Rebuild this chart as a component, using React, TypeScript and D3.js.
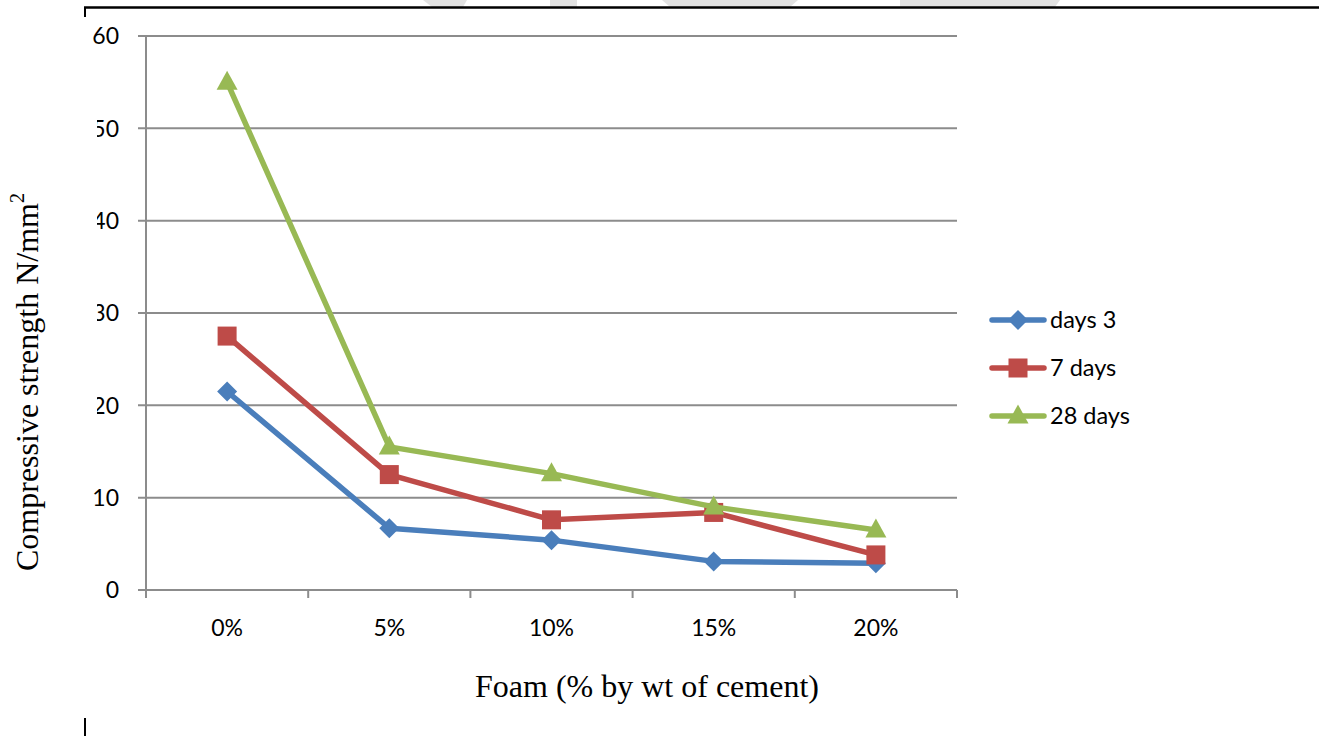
import React from "react";
import * as d3 from "d3";

// Foam content categories and compressive strength per curing age (N/mm²)
const categories = ["0%", "5%", "10%", "15%", "20%"];
const days3 = [21.5, 6.7, 5.4, 3.1, 2.9];
const days7 = [27.5, 12.5, 7.6, 8.4, 3.8];
const days28 = [55, 15.5, 12.6, 9.0, 6.5];
const yTicks = [0, 10, 20, 30, 40, 50, 60];

const seriesNames = ["days 3", "7 days", "28 days"];
const seriesColors = ["#4A7EBB", "#BE4B48", "#98B954"];
const seriesShapes = ["diamond", "square", "triangle"];

const W = 1319;
const H = 736;
const plot = { left: 146, right: 957, top: 36, bottom: 590 };

const tickFont = "Lato, 'Open Sans', sans-serif";
const titleFont = "'Liberation Serif', 'Times New Roman', serif";

function Marker({ shape, x, y, color }: { shape: string; x: number; y: number; color: string }) {
  if (shape === "diamond") {
    const r = 10;
    return <path d={`M${x},${y - r}L${x + r},${y}L${x},${y + r}L${x - r},${y}Z`} fill={color} />;
  }
  if (shape === "square") {
    const s = 19;
    return <rect x={x - s / 2} y={y - s / 2} width={s} height={s} fill={color} />;
  }
  const h = 19;
  const w = 21;
  return (
    <path d={`M${x},${y - h * 0.6}L${x + w / 2},${y + h * 0.4}L${x - w / 2},${y + h * 0.4}Z`} fill={color} />
  );
}

export default function App() {
  const x = d3.scaleBand<string>().domain(categories).range([plot.left, plot.right]);
  const y = d3.scaleLinear().domain([0, 60]).range([plot.bottom, plot.top]);
  const cx = (c: string) => (x(c) as number) + x.bandwidth() / 2;
  const allSeries = [days3, days7, days28];
  const line = d3
    .line<number>()
    .x((_, i) => cx(categories[i]))
    .y((v) => y(v));

  const bandEdges = categories.map((c) => x(c) as number).concat([plot.right]);
  const legendY = [320, 368, 416];

  return (
    <svg width={W} height={H} style={{ position: "absolute", left: 0, top: 0, background: "#fff" }}>
      <rect x={0} y={0} width={W} height={H} fill="#fff" />

      {/* faint page shapes above the frame line */}
      <g fill="#e2e2e2">
        <path d="M423,0L467,0L463,7L432,7Z" />
        <path d="M550,0L577,0L577,7L550,7Z" />
        <path d="M662,0L798,0L790,7L670,7Z" />
        <path d="M900,0L1060,0L1055,7L900,7Z" />
      </g>

      {/* page frame marks */}
      <line x1={84} x2={W} y1={7.5} y2={7.5} stroke="#000" strokeWidth={2.5} />
      <line x1={85} x2={85} y1={7} y2={17} stroke="#000" strokeWidth={2} />
      <line x1={85} x2={85} y1={718} y2={736} stroke="#000" strokeWidth={2} />

      {/* gridlines */}
      {yTicks.map((t) => (
        <line key={t} x1={plot.left - 8} x2={plot.right} y1={y(t)} y2={y(t)} stroke="#8c8c8c" strokeWidth={2} />
      ))}
      {/* axes */}
      <line x1={plot.left} x2={plot.left} y1={plot.top} y2={plot.bottom + 1} stroke="#8c8c8c" strokeWidth={2} />
      {bandEdges.map((e, i) => (
        <line key={i} x1={e} x2={e} y1={plot.bottom} y2={plot.bottom + 8} stroke="#8c8c8c" strokeWidth={2} />
      ))}

      {/* y tick labels */}
      {yTicks.map((t) => (
        <text
          key={t}
          x={119}
          y={y(t)}
          dy="0.36em"
          textAnchor="end"
          fontFamily={tickFont}
          fontSize={23}
          fill="#000"
        >
          {t}
        </text>
      ))}
      {/* title box overlapping the middle tick labels */}
      <rect x={30} y={110} width={67} height={320} fill="#fff" />

      {/* x tick labels */}
      {categories.map((c) => (
        <text key={c} x={cx(c)} y={628} dy="0.36em" textAnchor="middle" fontFamily={tickFont} fontSize={23} fill="#000">
          {c}
        </text>
      ))}

      {/* axis titles */}
      <text
        transform={`translate(38,382) rotate(-90)`}
        textAnchor="middle"
        fontFamily={titleFont}
        fontSize={32}
        fill="#000"
      >
        Compressive strength N/mm
        <tspan dy={-14} fontSize={20}>
          2
        </tspan>
      </text>
      <text x={647} y={697} textAnchor="middle" fontFamily={titleFont} fontSize={32} fill="#000">
        Foam (% by wt of cement)
      </text>

      {/* series */}
      {allSeries.map((vals, si) => (
        <g key={si}>
          <path
            d={line(vals) || ""}
            fill="none"
            stroke={seriesColors[si]}
            strokeWidth={5.5}
            strokeLinejoin="round"
            strokeLinecap="round"
          />
          {vals.map((v, i) => (
            <Marker key={i} shape={seriesShapes[si]} x={cx(categories[i])} y={y(v)} color={seriesColors[si]} />
          ))}
        </g>
      ))}

      {/* legend */}
      {seriesNames.map((n, i) => (
        <g key={n}>
          <line
            x1={992}
            x2={1044}
            y1={legendY[i]}
            y2={legendY[i]}
            stroke={seriesColors[i]}
            strokeWidth={5.5}
            strokeLinecap="round"
          />
          <Marker shape={seriesShapes[i]} x={1018} y={legendY[i]} color={seriesColors[i]} />
          <text x={1050} y={legendY[i]} dy="0.36em" fontFamily={tickFont} fontSize={23.5} fill="#000">
            {n}
          </text>
        </g>
      ))}
    </svg>
  );
}
